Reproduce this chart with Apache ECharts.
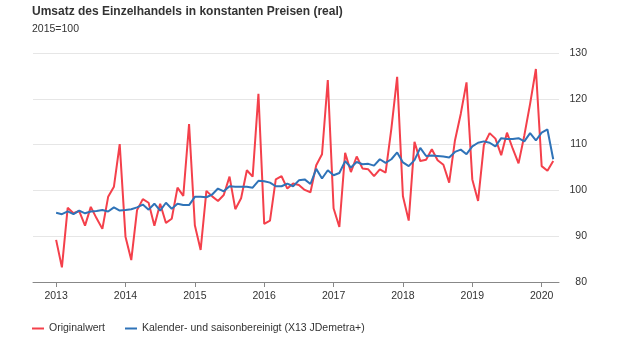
<!DOCTYPE html>
<html>
<head>
<meta charset="utf-8">
<script src="https://cdn.jsdelivr.net/npm/echarts@6/dist/echarts.min.js"></script>
<style>
  html, body { margin: 0; padding: 0; background: #fff; }
  #chart { width: 620px; height: 350px; }
</style>
</head>
<body>
<div id="chart"></div>
<script>
// Monatswerte Jan 2013 - Mär 2020, 2015=100
const originalwert = [
  89.2, 83.2, 96.2, 95.0, 95.5, 92.3, 96.4, 93.9, 91.6, 98.6, 100.8, 110.1, // 2013
  89.9, 84.8, 95.7, 98.1, 97.3, 92.3, 97.1, 92.9, 93.8, 100.6, 98.8, 114.5, // 2014
  92.4, 87.0, 99.9, 98.7, 97.7, 99.0, 103.0, 95.9, 98.3, 104.4, 103.0, 121.1, // 2015
  92.7, 93.4, 102.4, 103.1, 100.4, 101.5, 101.2, 100.1, 99.6, 105.5, 107.9, 124.1, // 2016
  96.1, 92.0, 108.2, 104.0, 107.4, 104.8, 104.6, 103.1, 104.6, 103.9, 113.5, 124.8, // 2017
  98.7, 93.4, 110.6, 106.4, 106.7, 109.0, 106.6, 105.6, 101.7, 110.9, 116.7, 123.6, // 2018
  102.4, 97.7, 109.9, 112.5, 111.3, 107.7, 112.6, 109.1, 105.9, 112.0, 118.9, 126.5, // 2019
  105.3, 104.3, 106.4 // 2020
]
const bereinigt = [
  95.1, 94.8, 95.4, 94.8, 95.6, 95.0, 95.4, 95.5, 95.7, 95.4, 96.3, 95.6,
  95.7, 95.9, 96.3, 96.9, 95.8, 97.1, 95.6, 97.3, 96.0, 97.1, 96.8, 96.8,
  98.6, 98.6, 98.5, 99.1, 100.4, 99.8, 100.9, 100.8, 100.8, 100.8, 100.6, 102.1,
  102.0, 101.7, 100.9, 100.9, 101.5, 100.9, 102.2, 102.4, 101.4, 104.7, 102.6, 104.4,
  103.3, 103.8, 106.4, 105.0, 106.2, 105.7, 105.8, 105.4, 106.8, 106.0, 106.8, 108.3,
  106.1, 105.3, 106.6, 109.3, 107.5, 107.6, 107.5, 107.4, 107.2, 108.4, 108.9, 107.9,
  109.6, 110.4, 110.7, 110.4, 109.6, 111.4, 111.2, 111.2, 111.4, 110.7, 112.5, 110.9,
  112.6, 113.3, 106.8
]
const jahre = ['2013', '2014', '2015', '2016', '2017', '2018', '2019', '2020']
const yTicks = [80, 90, 100, 110, 120, 130]

// Achse läuft von Sep 2012 bis Apr 2020
const monate = ['2012-09', '2012-10', '2012-11', '2012-12']
jahre.forEach(j => {
  for (let m = 1; m <= 12; m++) {
    if (j === '2020' && m > 4) break
    monate.push(j + '-' + (m < 10 ? '0' + m : m))
  }
})
const pad = [null, null, null, null]
const serieOrig = pad.concat(originalwert, [null])
const serieBer = pad.concat(bereinigt, [null])

const isJanuar = (idx, val) => val.slice(5) === '01'

const chart = echarts.init(document.getElementById('chart'))
chart.setOption({
  animation: false,
  textStyle: { fontFamily: 'Liberation Sans, Arial, sans-serif' },
  title: [{
    text: 'Umsatz des Einzelhandels in konstanten Preisen (real)',
    left: 32,
    top: 6,
    padding: 0,
    textStyle: { fontSize: 12, fontWeight: 'bold', color: '#333' }
  }, {
    text: '2015=100',
    left: 32,
    top: 24,
    padding: 0,
    textStyle: { fontSize: 10.5, fontWeight: 'normal', color: '#333' }
  }],
  legend: {
    left: 32,
    top: 323,
    padding: 0,
    itemWidth: 12,
    itemHeight: 2,
    itemGap: 20,
    icon: 'rect',
    textStyle: { fontSize: 10.5, color: '#333' },
    data: ['Originalwert', 'Kalender- und saisonbereinigt (X13 JDemetra+)']
  },
  grid: { left: 33, right: 61, top: 53, bottom: 68, containLabel: false },
  xAxis: {
    type: 'category',
    data: monate,
    boundaryGap: false,
    axisLine: { lineStyle: { color: '#888', width: 1 } },
    axisTick: { interval: isJanuar, length: 5, lineStyle: { color: '#888' } },
    axisLabel: {
      interval: isJanuar,
      formatter: v => v.slice(0, 4),
      fontSize: 10.5,
      color: '#333',
      margin: 9
    },
    splitLine: { show: false }
  },
  yAxis: {
    type: 'value',
    position: 'right',
    min: yTicks[0],
    max: yTicks[yTicks.length - 1],
    interval: 10,
    axisLine: { show: false },
    axisTick: { show: false },
    axisLabel: { fontSize: 10.5, color: '#333', align: 'right', margin: 28 },
    splitLine: { lineStyle: { color: '#e6e6e6' } }
  },
  series: [{
    name: 'Originalwert',
    type: 'line',
    data: serieOrig,
    showSymbol: false,
    color: '#f4404b',
    lineStyle: { width: 2, color: '#f4404b' }
  }, {
    name: 'Kalender- und saisonbereinigt (X13 JDemetra+)',
    type: 'line',
    data: serieBer,
    showSymbol: false,
    color: '#2f73b8',
    lineStyle: { width: 2, color: '#2f73b8' }
  }]
})
</script>
</body>
</html>
